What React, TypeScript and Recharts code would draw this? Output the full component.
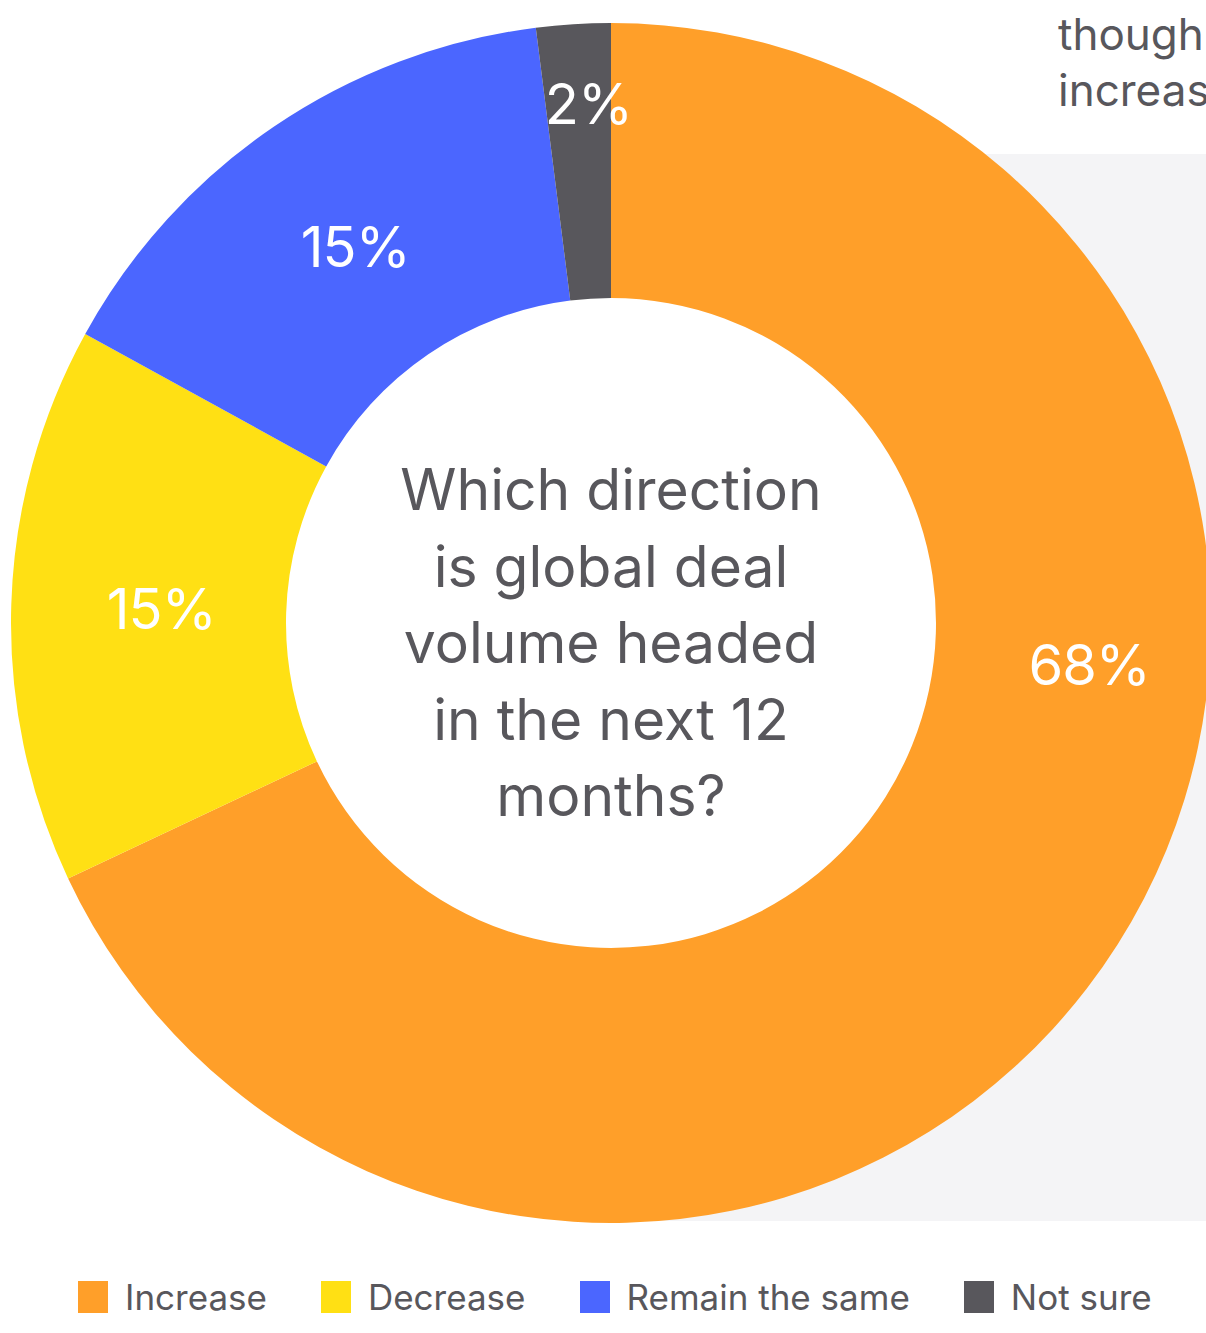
import { PieChart, Pie, Cell, Legend } from 'recharts';

// ── Data ────────────────────────────────────────────────────────────────────

const categories = ['Increase', 'Decrease', 'Remain the same', 'Not sure'];
const shares = [68, 15, 15, 2];
const colors = ['#FF9F29', '#FFE014', '#4B66FF', '#58575C'];

const centerLines = ['Which direction', 'is global deal', 'volume headed', 'in the next 12', 'months?'];
const sideLines = ['though', 'increase'];

const data = categories.map((name, i) => ({ name, value: shares[i] }));

const FONT = "Inter, 'Noto Sans', sans-serif";
const TEXT = '#58575C';
const RADIAN = Math.PI / 180;

// label placement per slice (angle override in degrees, radius)
const labelPlace: { angle?: number; r: number }[] = [
  { angle: -5, r: 480 },
  { r: 450 },
  { r: 455 },
  { angle: 92.5, r: 519 },
];

function SliceLabel(props: any) {
  const { cx, cy, midAngle, index, value } = props;
  const place = labelPlace[index] || { r: 460 };
  const a = (place.angle ?? midAngle) * RADIAN;
  const x = cx + place.r * Math.cos(a);
  const y = cy - place.r * Math.sin(a);
  return (
    <text x={x} y={y} fill="#fff" textAnchor="middle" dominantBaseline="central"
      style={{ fontFamily: FONT, fontSize: 56, fontWeight: 400, letterSpacing: -1 }}>
      {value}%
    </text>
  );
}

// legend in series order (recharts would sort it by name)
function LegendRow() {
  return (
    <div style={{ display: 'flex', alignItems: 'center', paddingLeft: 78, gap: 54 }}>
      {categories.map((c, i) => (
        <div key={c} style={{ display: 'flex', alignItems: 'center', gap: 17 }}>
          <div style={{ width: 30, height: 32, background: colors[i] }} />
          <span style={{ fontFamily: FONT, fontSize: 35, color: TEXT }}>{c}</span>
        </div>
      ))}
    </div>
  );
}

export default function App() {
  return (
    <div style={{ position: 'absolute', left: 0, top: 0, width: 1206, height: 1333, overflow: 'hidden', background: '#fff' }}>
      {/* grey panel behind the right half */}
      <div style={{ position: 'absolute', left: 611, top: 154, width: 600, height: 1067, background: '#F4F4F6' }} />
      {/* the hole stays white */}
      <div style={{ position: 'absolute', left: 611 - 326, top: 623 - 326, width: 652, height: 652, borderRadius: '50%', background: '#fff' }} />

      {/* neighbouring text, cut off by the page edge */}
      <div style={{
        position: 'absolute', left: 1058, top: 6, fontFamily: FONT, fontSize: 44,
        lineHeight: '56px', color: TEXT, whiteSpace: 'nowrap',
      }}>
        {sideLines.map(l => <div key={l}>{l}</div>)}
      </div>

      <div style={{ position: 'absolute', left: 0, top: 0 }}>
        <PieChart width={1206} height={1333} margin={{ top: 0, right: 0, bottom: 0, left: 0 }}>
          <Pie
            data={data}
            dataKey="value"
            nameKey="name"
            cx={611}
            cy={623}
            innerRadius={325}
            outerRadius={600}
            startAngle={90}
            endAngle={-270}
            stroke="none"
            label={SliceLabel}
            labelLine={false}
            isAnimationActive={false}
          >
            {data.map((d, i) => <Cell key={d.name} fill={colors[i]} />)}
          </Pie>
          <Legend
            content={<LegendRow />}
            wrapperStyle={{ position: 'absolute', left: 0, top: 1276, width: 1206 }}
          />
        </PieChart>
      </div>

      {/* question in the hole */}
      <div style={{
        position: 'absolute', left: 341, top: 452, width: 540, textAlign: 'center',
        fontFamily: FONT, fontSize: 57, lineHeight: '76.5px', color: TEXT,
      }}>
        {centerLines.map(l => <div key={l}>{l}</div>)}
      </div>
    </div>
  );
}
